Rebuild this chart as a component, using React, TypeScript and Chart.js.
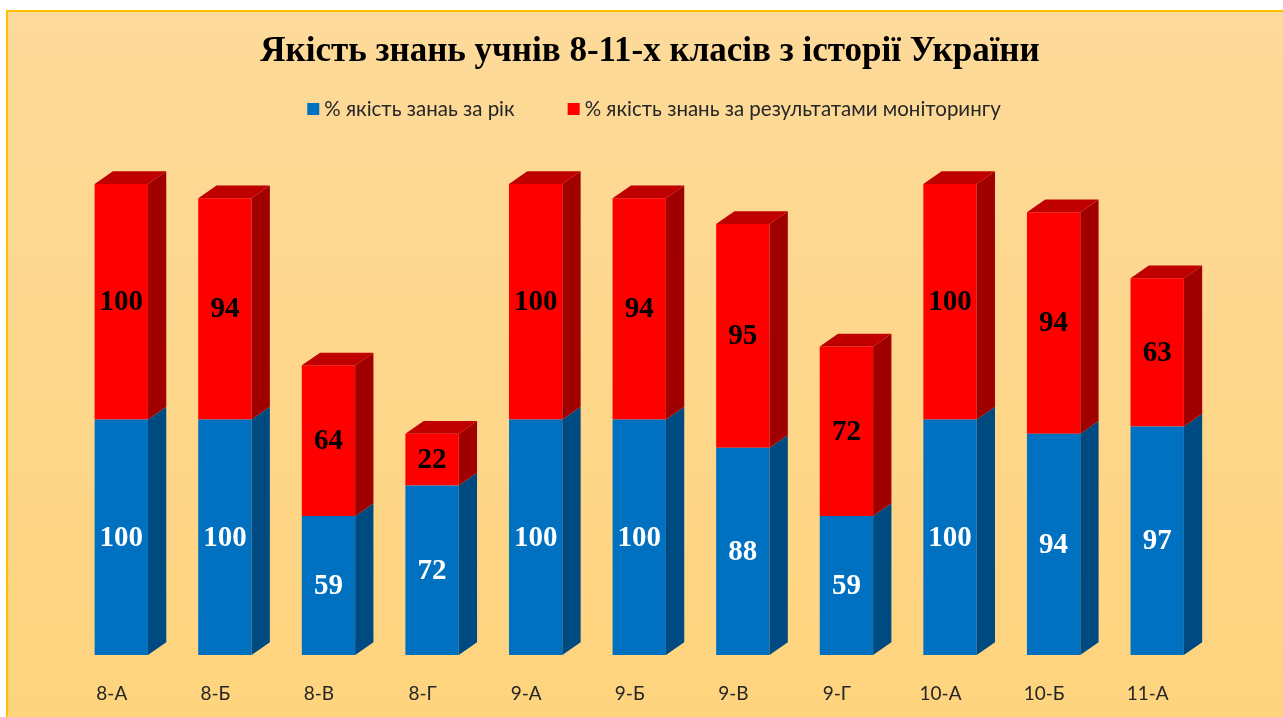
import React, { useEffect, useRef } from "react";
import { Chart, registerables } from "chart.js";

Chart.register(...registerables);

const titleText = "Якість знань учнів 8-11-х класів з історії України";
const categories = ["8-А", "8-Б", "8-В", "8-Г", "9-А", "9-Б", "9-В", "9-Г", "10-А", "10-Б", "11-А"];
const yearQuality = [100, 100, 59, 72, 100, 100, 88, 59, 100, 94, 97];
const monitoringQuality = [100, 94, 64, 22, 100, 94, 95, 72, 100, 94, 63];
const seriesNames = ["% якість занаь за рік", "% якість знань за результатами моніторингу"];
const frontColors = ["#0070C0", "#FF0000"];
const sideColors = ["#004A82", "#A00000"];
const topColors = ["#005A9C", "#C00000"];
const labelColors = ["#FFFFFF", "#000000"];

const W = 1300;
const H = 717;
const DX = 18.3;
const DY = 12.7;
const serif = "'Liberation Serif', 'Times New Roman', serif";
const sans = "Lato, 'Noto Sans', sans-serif";

const framePlugin = {
  id: "frame",
  beforeDraw(chart: any) {
    const ctx = chart.ctx;
    ctx.save();
    const g = ctx.createLinearGradient(0, 10, 0, H);
    g.addColorStop(0, "#FDDA9A");
    g.addColorStop(1, "#FFD47E");
    ctx.fillStyle = g;
    ctx.fillRect(6, 10, W - 12, H);
    ctx.strokeStyle = "#FFC000";
    ctx.lineWidth = 2;
    ctx.strokeRect(7, 11, W - 14, H + 10);
    ctx.restore();
  },
};

const depthPlugin = {
  id: "depth3d",
  afterDatasetsDraw(chart: any) {
    const ctx = chart.ctx;
    const n = chart.data.datasets.length;
    ctx.save();
    chart.data.datasets.forEach((ds: any, di: number) => {
      const meta = chart.getDatasetMeta(di);
      meta.data.forEach((el: any) => {
        const { x, y, base, width } = el.getProps(["x", "y", "base", "width"], true);
        const l = x - width / 2;
        const r = x + width / 2;
        ctx.fillStyle = sideColors[di];
        ctx.beginPath();
        ctx.moveTo(r, y);
        ctx.lineTo(r + DX, y - DY);
        ctx.lineTo(r + DX, base - DY);
        ctx.lineTo(r, base);
        ctx.closePath();
        ctx.fill();
        if (di === n - 1) {
          ctx.fillStyle = topColors[di];
          ctx.beginPath();
          ctx.moveTo(l, y);
          ctx.lineTo(l + DX, y - DY);
          ctx.lineTo(r + DX, y - DY);
          ctx.lineTo(r, y);
          ctx.closePath();
          ctx.fill();
        }
      });
    });
    ctx.font = `bold 29px ${serif}`;
    ctx.textAlign = "center";
    ctx.textBaseline = "middle";
    chart.data.datasets.forEach((ds: any, di: number) => {
      const meta = chart.getDatasetMeta(di);
      meta.data.forEach((el: any, i: number) => {
        const { x, y, base } = el.getProps(["x", "y", "base"], true);
        ctx.fillStyle = labelColors[di];
        ctx.fillText(String(ds.data[i]), x, (y + base) / 2 + 1);
      });
    });
    ctx.restore();
  },
};

const legendPlugin = {
  id: "customLegend",
  afterDraw(chart: any) {
    const ctx = chart.ctx;
    ctx.save();
    ctx.font = `20.5px ${sans}`;
    ctx.textBaseline = "middle";
    ctx.textAlign = "left";
    const box = 12;
    const gap = 5;
    const itemGap = 53;
    const widths = chart.data.datasets.map((d: any) => box + gap + ctx.measureText(d.label).width);
    const total = widths.reduce((a: number, b: number) => a + b, 0) + itemGap * (widths.length - 1);
    let x = 654 - total / 2;
    const cy = 109;
    chart.data.datasets.forEach((d: any, i: number) => {
      ctx.fillStyle = frontColors[i];
      ctx.fillRect(x, cy - box / 2, box, box);
      ctx.fillStyle = "#262626";
      ctx.fillText(d.label, x + box + gap, cy);
      x += widths[i] + itemGap;
    });
    ctx.restore();
  },
};

export default function App() {
  const ref = useRef<HTMLCanvasElement | null>(null);
  useEffect(() => {
    if (!ref.current) return;
    const chart = new Chart(ref.current, {
      type: "bar",
      data: {
        labels: categories,
        datasets: [
          {
            label: seriesNames[0],
            data: yearQuality,
            backgroundColor: frontColors[0],
            borderWidth: 0,
            categoryPercentage: 1,
            barPercentage: 0.515,
          },
          {
            label: seriesNames[1],
            data: monitoringQuality,
            backgroundColor: frontColors[1],
            borderWidth: 0,
            categoryPercentage: 1,
            barPercentage: 0.515,
          },
        ],
      },
      options: {
        responsive: false,
        animation: false,
        devicePixelRatio: 1,
        layout: { padding: 0 },
        plugins: {
          legend: { display: false },
          tooltip: { enabled: false },
          title: {
            display: true,
            text: titleText,
            color: "#000000",
            font: { family: serif, size: 35, weight: "bold" },
            padding: { top: 31, bottom: 111 },
          },
        },
        scales: {
          x: {
            stacked: true,
            grid: { display: false },
            border: { display: false },
            ticks: {
              color: "#262626",
              font: { family: sans, size: 19 },
              padding: 19,
              labelOffset: -9.5,
              maxRotation: 0,
              autoSkip: false,
            },
            afterFit: (s: any) => {
              s.height = 62;
            },
          },
          y: {
            stacked: true,
            min: 0,
            max: 200,
            position: "left",
            grid: { display: false },
            border: { display: false },
            ticks: { display: false },
            afterFit: (s: any) => {
              s.width = 69.5;
            },
          },
          y2: {
            position: "right",
            grid: { display: false },
            border: { display: false },
            ticks: { display: false },
            afterFit: (s: any) => {
              s.width = 91;
            },
          },
        },
      },
      plugins: [framePlugin, depthPlugin, legendPlugin],
    });
    return () => chart.destroy();
  }, []);
  return (
    <div style={{ position: "fixed", left: 0, top: 0, width: 1283, height: 717, overflow: "hidden", background: "#fff" }}>
      <canvas ref={ref} width={W} height={H} style={{ display: "block", width: W, height: H }} />
    </div>
  );
}
